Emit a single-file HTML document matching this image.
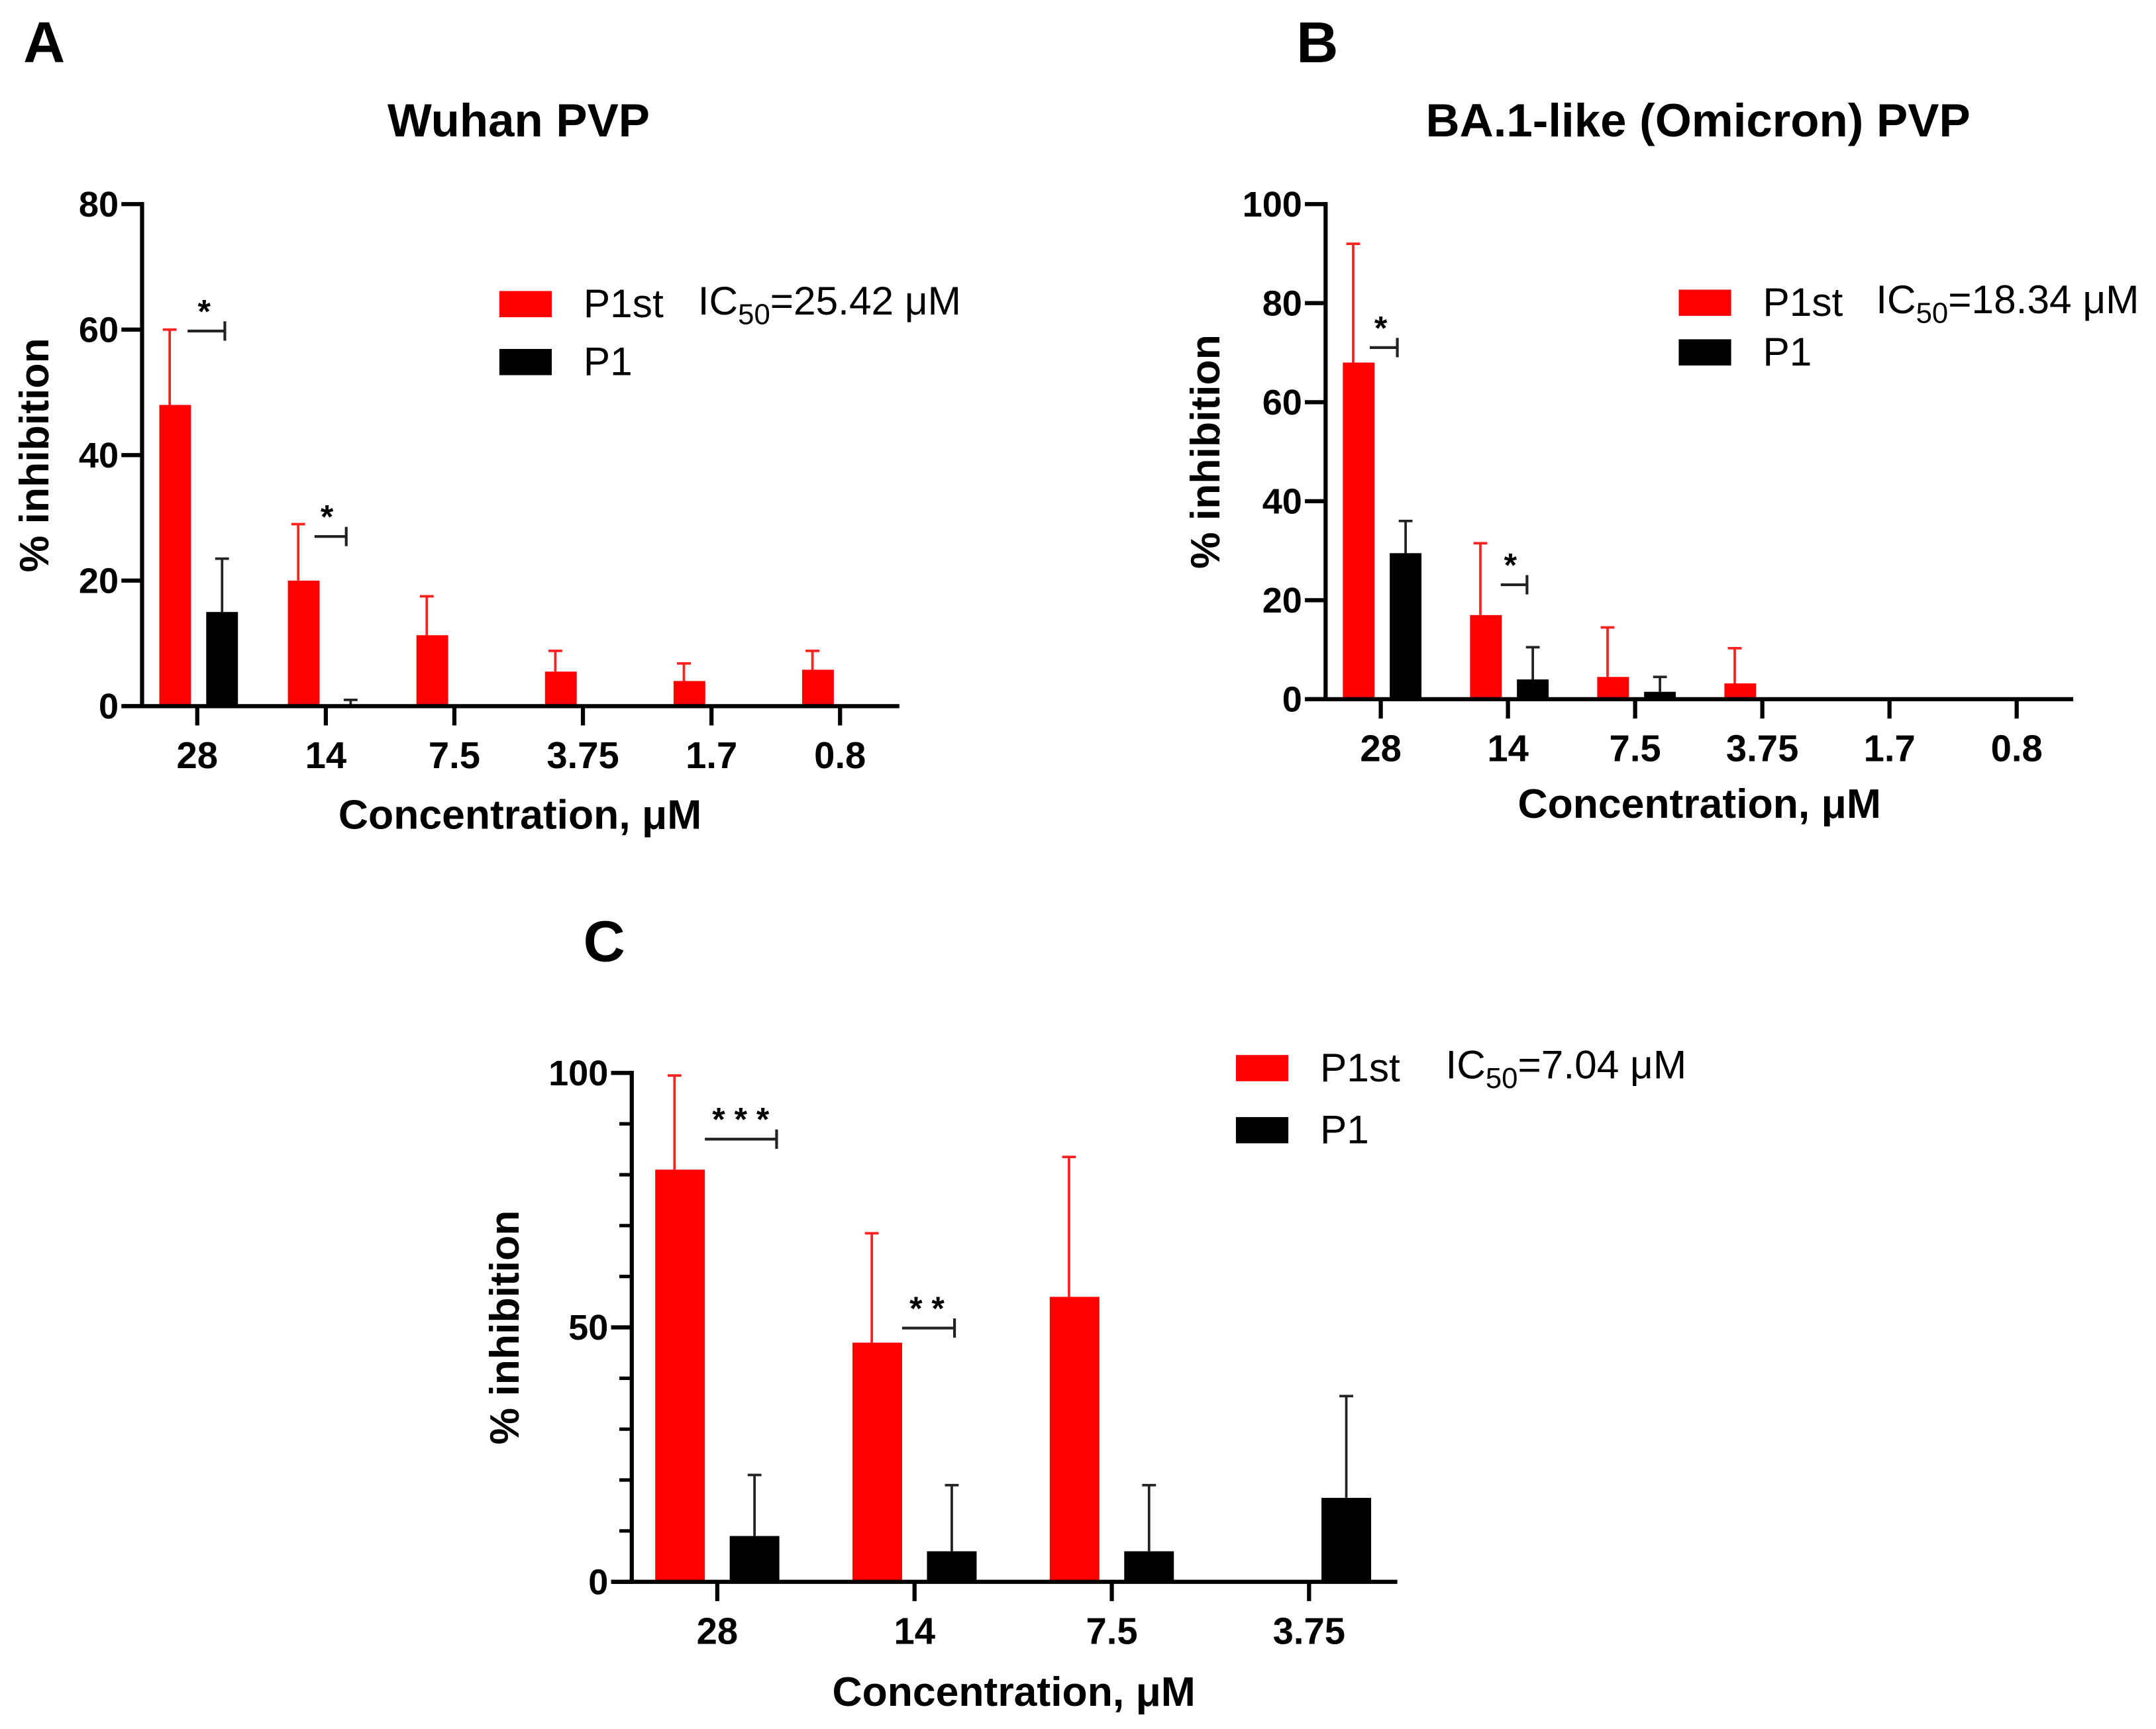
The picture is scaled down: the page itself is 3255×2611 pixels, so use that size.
<!DOCTYPE html>
<html><head><meta charset="utf-8"><style>
html,body{margin:0;padding:0;background:#fff;}
svg{display:block;}
text{font-family:"Liberation Sans",Arial,sans-serif;}
</style></head><body>
<svg id="fig" width="3255" height="2611" viewBox="0 0 1563 1253.7" xmlns="http://www.w3.org/2000/svg">
<g id="root"></g>
</svg>
<script>
const catsA = ["28","14","7.5","3.75","1.7","0.8"];
const redA = [48,20,11.3,5.5,4,5.8];
const redErrA = [60,29,17.5,8.8,6.8,8.8];
const blackA = [15,0.3,0,0,0,0];
const blackErrA = [23.5,1,0,0,0,0];
const yTicksA = [0,20,40,60,80];

const catsB = ["28","14","7.5","3.75","1.7","0.8"];
const redB = [68,17,4.5,3.2,0,0];
const redErrB = [92,31.5,14.5,10.3,0,0];
const blackB = [29.5,4,1.5,0,0,0];
const blackErrB = [36,10.5,4.5,0,0,0];
const yTicksB = [0,20,40,60,80,100];

const catsC = ["28","14","7.5","3.75"];
const redC = [81,47,56,0];
const redErrC = [99.5,68.5,83.5,0];
const blackC = [9,6,6,16.5];
const blackErrC = [21,19,19,36.5];
const yTicksC = [0,50,100];
const yMinorC = [0,10,20,30,40,50,60,70,80,90,100];

const NS="http://www.w3.org/2000/svg";
const root=document.getElementById('root');
function mk(tag,attrs,parent,txt){const e=document.createElementNS(NS,tag);for(const k in attrs)e.setAttribute(k,attrs[k]);if(txt!==undefined)e.textContent=txt;(parent||root).appendChild(e);return e;}

function panel(o){
  const g=mk('g',{});
  
  
  const y=v=>o.y0+(o.y1-o.y0)*(v-o.vmin)/(o.vmax-o.vmin);
  const x=i=>o.t0+i*o.dx;
  o.cats.forEach((c,i)=>{
    const rc=x(i)+o.roff, bc=x(i)+o.boff, w=o.bw;
    if(o.red[i]>0){
      const r=mk('rect',{x:rc-w/2,y:y(o.red[i]),width:w,height:o.y0-y(o.red[i]),fill:'#ff0000'},g);
      
      
    }
    if(o.redErr[i]>o.red[i]){
      const e=mk('path',{d:`M${rc-4},${y(o.red[i])}V${y(o.redErr[i])}M${rc-9},${y(o.redErr[i])}H${rc+1}`,stroke:'#ff2020',"stroke-width":1.8,fill:'none'},g);
      
      
    }
    if(o.black[i]>0){
      const r=mk('rect',{x:bc-w/2,y:y(o.black[i]),width:w,height:o.y0-y(o.black[i]),fill:'#000'},g);
      
      
    }
    if(o.blackErr[i]>o.black[i]){
      const e=mk('path',{d:`M${bc},${y(o.black[i])}V${y(o.blackErr[i])}M${bc-5},${y(o.blackErr[i])}H${bc+5}`,stroke:'#222',"stroke-width":1.8,fill:'none'},g);
      
      
    }
    const tk=mk('line',{x1:x(i),x2:x(i),y1:o.y0,y2:o.y0+14,stroke:'#000',"stroke-width":3},g);
    
    
    const tl=mk('text',{x:x(i),y:o.y0+45,"text-anchor":'middle',"font-size":27,"font-weight":'bold'},g,c);
    
    
  });
  const ya=mk('line',{x1:o.ax,x2:o.ax,y1:y(o.vmax)-1.5,y2:o.y0+1.5,stroke:'#000',"stroke-width":3},g);
  
  
  const xa=mk('line',{x1:o.ax-14,x2:o.xend,y1:o.y0,y2:o.y0,stroke:'#000',"stroke-width":3},g);
  
  
  (o.minor||[]).forEach(v=>{
    const m=mk('line',{x1:o.ax-9,x2:o.ax,y1:y(v),y2:y(v),stroke:'#000',"stroke-width":2.5},g);
    
    
  });
  o.yt.forEach(v=>{
    const t=mk('line',{x1:o.ax-15,x2:o.ax,y1:y(v),y2:y(v),stroke:'#000',"stroke-width":3},g);
    
    
    const l=mk('text',{x:o.ax-17,y:y(v)+9,"text-anchor":'end',"font-size":26,"font-weight":'bold'},g,String(v));
    
    
  });
  const yt=mk('text',{transform:`translate(${o.ytx},${(o.y0+y(o.vmax))/2}) rotate(-90)`,"text-anchor":'middle',"font-size":30,"font-weight":'bold'},g,'% inhibition');
  
  
  const xt=mk('text',{x:o.xtx,y:o.xty,"text-anchor":'middle',"font-size":30,"font-weight":'bold'},g,'Concentration, μM');
  
  
  o.sig.forEach(s=>{
    const p=mk('path',{d:`M${s.x1},${s.y}H${s.x2}M${s.x2},${s.y-7}V${s.y+7}`,stroke:'#222',"stroke-width":2,fill:'none'},g);
    
    
    const t=mk('text',{x:s.tx,y:s.y-6,"text-anchor":'middle',"font-size":24,"font-weight":'bold'},g,s.t);
    
    
  });
  const L=o.leg;
  const r1=mk('rect',{x:L.x,y:L.y,width:38,height:19,fill:'#ff0000'},g);
  
  
  const t1=mk('text',{x:L.x+61,y:L.y+19,"font-size":29},g,'P1st');
  
  
  const r2=mk('rect',{x:L.x,y:L.y+L.dy,width:38,height:19,fill:'#000'},g);
  
  
  const t2=mk('text',{x:L.x+61,y:L.y+L.dy+19,"font-size":29},g,'P1');
  
  
  const ic=mk('text',{x:L.icx,y:L.y+17,"font-size":29},g);
  
  
  ic.innerHTML='IC<tspan font-size="21" dy="7">50</tspan><tspan dy="-7">'+L.ic+'</tspan>';
  if(o.title){
    const tt=mk('text',{x:o.title.x,y:o.title.y,"text-anchor":'middle',"font-size":34,"font-weight":'bold'},g,o.title.t);
    
    
  }
  const pl=mk('text',{x:o.letter.x,y:o.letter.y,"text-anchor":'middle',"font-size":42,"font-weight":'bold'},g,o.letter.t);
  
  
}

panel({name:'panel-a-wuhan',cats:catsA,red:redA,redErr:redErrA,black:blackA,blackErr:blackErrA,yt:yTicksA,
  vmin:0,vmax:80,y0:512,y1:148,ax:103,xend:652,t0:143,dx:93.2,roff:-16,boff:18,bw:23,ytx:35,xtx:377,xty:601,
  sig:[{x1:136,x2:163,y:240,tx:148,t:'*'},{x1:228,x2:251,y:389,tx:237,t:'*'}],
  leg:{x:362,y:211,dy:42,icx:506,ic:'=25.42 μM'},title:{x:376,y:99,t:'Wuhan PVP'},letter:{x:32,y:45,t:'A'}});

panel({name:'panel-b-omicron',cats:catsB,red:redB,redErr:redErrB,black:blackB,blackErr:blackErrB,yt:yTicksB,
  vmin:0,vmax:100,y0:507,y1:148,ax:961,xend:1503,t0:1001,dx:92.2,roff:-16,boff:18,bw:23,ytx:884,xtx:1232,xty:593,
  sig:[{x1:993,x2:1013,y:252,tx:1001,t:'*'},{x1:1088,x2:1107,y:424,tx:1095,t:'*'}],
  leg:{x:1217,y:210,dy:36,icx:1360,ic:'=18.34 μM'},title:{x:1231,y:99,t:'BA.1-like (Omicron) PVP'},letter:{x:955,y:45,t:'B'}});

panel({name:'panel-c',cats:catsC,red:redC,redErr:redErrC,black:blackC,blackErr:blackErrC,yt:yTicksC,minor:yMinorC,
  vmin:0,vmax:100,y0:1147,y1:778,ax:458,xend:1013,t0:520,dx:143,roff:-27,boff:27,bw:36,ytx:376,xtx:735,xty:1237,
  sig:[{x1:511,x2:563,y:826,tx:537,t:'* * *'},{x1:654,x2:692,y:963,tx:672,t:'* *'}],
  leg:{x:896,y:765,dy:45,icx:1048,ic:'=7.04 μM'},letter:{x:438,y:697,t:'C'}});
</script>
</body></html>
